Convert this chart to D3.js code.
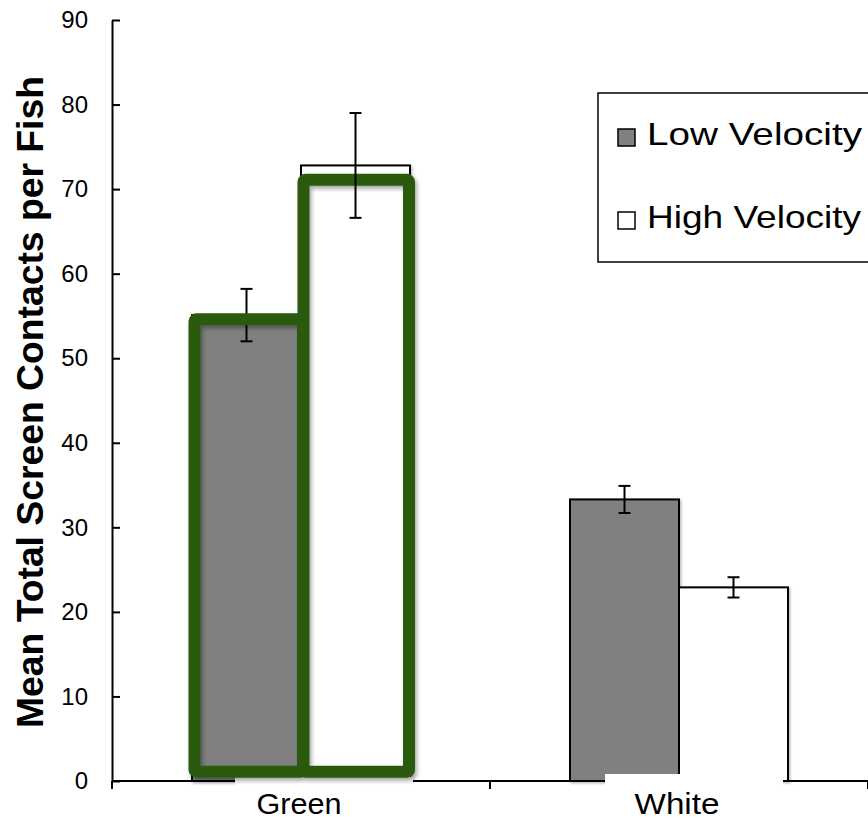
<!DOCTYPE html>
<html>
<head>
<meta charset="utf-8">
<script src="https://cdn.jsdelivr.net/npm/d3@7/dist/d3.min.js"></script>
<style>
  html, body { margin: 0; padding: 0; background: #fff; }
  svg { display: block; font-family: "Liberation Sans", Arial, sans-serif; }
</style>
</head>
<body>
<svg id="chart" width="868" height="819"></svg>
<script>
// Categories and series
const categories = ["Green", "White"];
const seriesNames = ["Low Velocity", "High Velocity"];
const seriesFills = ["#808080", "#ffffff"];

// Means and standard errors
const lowVelocity = [55.1, 33.3];
const highVelocity = [72.8, 22.9];
const lowVelocityErr = [3.1, 1.6];
const highVelocityErr = [6.2, 1.2];

// Y ticks
const yTicks = [0, 10, 20, 30, 40, 50, 60, 70, 80, 90];

// Highlight outlines around the Green bars (value levels)
const highlightTops = [54.6, 71.1];
const highlightBase = 1.1;

const svg = d3.select("#chart");
const plotLeft = 112, plotRight = 868, plotTop = 20, plotBottom = 781;

const y = d3.scaleLinear().domain([0, 90]).range([plotBottom, plotTop]);
const x0 = d3.scaleBand().domain(categories).range([plotLeft, plotRight]).paddingInner(0).paddingOuter(0);
const barW = 109;
const x1 = d3.scaleBand().domain(seriesNames)
  .range([x0.bandwidth() / 2 - barW, x0.bandwidth() / 2 + barW]);

const series = [
  { name: seriesNames[0], values: lowVelocity, errs: lowVelocityErr, fill: seriesFills[0] },
  { name: seriesNames[1], values: highVelocity, errs: highVelocityErr, fill: seriesFills[1] }
];

// Soft shadows
const defs = svg.append("defs");
const f = defs.append("filter").attr("id", "shadow")
  .attr("x", "-10%").attr("y", "-10%").attr("width", "130%").attr("height", "130%");
f.append("feDropShadow").attr("dx", 2).attr("dy", 3).attr("stdDeviation", 2)
  .attr("flood-color", "#000").attr("flood-opacity", 0.35);
const fb = defs.append("filter").attr("id", "barshadow")
  .attr("x", "-10%").attr("y", "-10%").attr("width", "130%").attr("height", "130%");
fb.append("feDropShadow").attr("dx", 1.5).attr("dy", 1.5).attr("stdDeviation", 1.2)
  .attr("flood-color", "#000").attr("flood-opacity", 0.25);

// Bars
series.forEach(s => {
  svg.append("g").selectAll("rect")
    .data(categories.map((c, i) => ({ c, v: s.values[i] })))
    .join("rect")
    .attr("x", d => x0(d.c) + x1(s.name))
    .attr("y", d => y(d.v))
    .attr("width", x1.bandwidth())
    .attr("height", d => y(0) - y(d.v))
    .attr("fill", s.fill)
    .attr("stroke", "#000")
    .attr("stroke-width", 2)
    .attr("filter", "url(#barshadow)");
});

// Y axis with inward ticks
const yAxis = d3.axisLeft(y).tickValues(yTicks).tickSizeInner(-8).tickSizeOuter(0).tickPadding(24);
const gy = svg.append("g").attr("transform", `translate(${plotLeft},0)`).call(yAxis);
gy.select(".domain").attr("stroke", "#000").attr("stroke-width", 2);
gy.selectAll(".tick line").attr("stroke", "#000").attr("stroke-width", 2);
gy.selectAll(".tick text").attr("font-size", 24).attr("fill", "#000")
  .attr("font-family", "'Liberation Sans', Arial, sans-serif");

// X axis baseline and category separators
svg.append("line").attr("x1", plotLeft).attr("x2", plotRight).attr("y1", plotBottom).attr("y2", plotBottom)
  .attr("stroke", "#000").attr("stroke-width", 2);
const bounds = categories.map(c => x0(c)).concat([plotRight]);
svg.append("g").selectAll("line").data(bounds).join("line")
  .attr("x1", d => d).attr("x2", d => d).attr("y1", plotBottom).attr("y2", plotBottom + 8)
  .attr("stroke", "#000").attr("stroke-width", 2);

// Category labels
svg.append("g").selectAll("text").data(categories).join("text")
  .attr("x", d => x0(d) + x0.bandwidth() / 2 - 2)
  .attr("y", 814)
  .attr("text-anchor", "middle")
  .attr("font-size", 29)
  .attr("textLength", 85)
  .attr("lengthAdjust", "spacingAndGlyphs")
  .text(d => d);

// Error bars
function drawErr(s) {
  const g = svg.append("g").attr("stroke", "#000").attr("stroke-width", 2);
  categories.forEach((c, i) => {
    const cx = x0(c) + x1(s.name) + x1.bandwidth() / 2;
    const hi = y(s.values[i] + s.errs[i]), lo = y(s.values[i] - s.errs[i]);
    g.append("line").attr("x1", cx).attr("x2", cx).attr("y1", hi).attr("y2", lo);
    g.append("line").attr("x1", cx - 6).attr("x2", cx + 6).attr("y1", hi).attr("y2", hi);
    g.append("line").attr("x1", cx - 6).attr("x2", cx + 6).attr("y1", lo).attr("y2", lo);
  });
}
drawErr(series[0]);

// White patches along the baseline
svg.append("rect").attr("x", 235).attr("y", 777).attr("width", 178).attr("height", 13).attr("fill", "#fff");
svg.append("rect").attr("x", 605).attr("y", 774).attr("width", 178).attr("height", 16).attr("fill", "#fff");

// Highlight outlines around the Green bars
const hl = svg.append("g").attr("fill", "none").attr("stroke", "#2b5a0f")
  .attr("stroke-width", 12).attr("stroke-linejoin", "round").attr("filter", "url(#shadow)");
const widths = [108.5, 105.5];
seriesNames.forEach((name, i) => {
  const bx = x0("Green") + x1(name) + 2.5;
  hl.append("rect")
    .attr("x", bx)
    .attr("y", y(highlightTops[i]))
    .attr("width", widths[i])
    .attr("height", y(highlightBase) - y(highlightTops[i]))
    .attr("rx", 2);
});

drawErr(series[1]);

// Y axis title
svg.append("text")
  .attr("transform", `translate(43,402) rotate(-90)`)
  .attr("text-anchor", "middle")
  .attr("font-size", 37)
  .attr("font-weight", "bold")
  .attr("textLength", 652)
  .attr("lengthAdjust", "spacingAndGlyphs")
  .text("Mean Total Screen Contacts per Fish");

// Legend
const lg = svg.append("g");
lg.append("rect").attr("x", 598).attr("y", 93).attr("width", 290).attr("height", 169)
  .attr("fill", "#fff").attr("stroke", "#000").attr("stroke-width", 1.5);
const legendY = [145, 228];
series.forEach((s, i) => {
  lg.append("rect").attr("x", 618).attr("y", legendY[i] - 16).attr("width", 17).attr("height", 17)
    .attr("fill", s.fill).attr("stroke", "#000").attr("stroke-width", 1.5);
  lg.append("text").attr("x", 647).attr("y", legendY[i])
    .attr("font-size", 32)
    .attr("textLength", i === 0 ? 215 : 214)
    .attr("lengthAdjust", "spacingAndGlyphs")
    .text(s.name);
});
</script>
</body>
</html>
